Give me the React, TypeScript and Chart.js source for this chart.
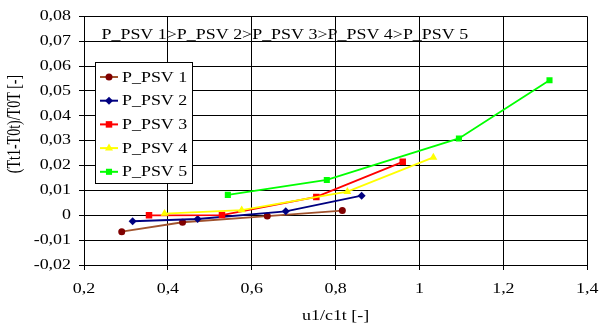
import React, { useEffect, useRef } from 'react';
import { Chart, registerables } from 'chart.js';

Chart.register(...registerables);

// ---------- data ----------
const SERIES_NAMES = ['P_PSV 1', 'P_PSV 2', 'P_PSV 3', 'P_PSV 4', 'P_PSV 5'];

const S1_X = [0.290, 0.435, 0.637, 0.816];
const S1_Y = [-0.0066, -0.0028, -0.0003, 0.0019];

const S2_X = [0.316, 0.471, 0.681, 0.862];
const S2_Y = [-0.0024, -0.0015, 0.0016, 0.0079];

const S3_X = [0.355, 0.529, 0.754, 0.960];
const S3_Y = [0.0000, 0.0001, 0.0074, 0.0215];

const S4_X = [0.392, 0.576, 0.828, 1.033];
const S4_Y = [0.0007, 0.0021, 0.0095, 0.0233];

const S5_X = [0.543, 0.779, 1.094, 1.310];
const S5_Y = [0.0082, 0.0142, 0.0309, 0.0543];

const X_TICKS = [0.2, 0.4, 0.6, 0.8, 1.0, 1.2, 1.4];
const X_TICK_LABELS = ['0,2', '0,4', '0,6', '0,8', '1', '1,2', '1,4'];
const Y_TICKS = [-0.02, -0.01, 0, 0.01, 0.02, 0.03, 0.04, 0.05, 0.06, 0.07, 0.08];
const Y_TICK_LABELS = ['-0,02', '-0,01', '0', '0,01', '0,02', '0,03', '0,04', '0,05', '0,06', '0,07', '0,08'];

const ANNOTATION = 'P_PSV 1>P_PSV 2>P_PSV 3>P_PSV 4>P_PSV 5';
const X_TITLE = 'u1/c1t [-]';
const Y_TITLE = '(Tt1-T0t)/T0T [-]';

// ---------- styles ----------
const FONT_FAMILY = '"Liberation Serif", "Times New Roman", serif';
const SX = 1.28; // horizontal text stretch of the reference
const STYLES = [
  { line: '#A0522D', point: '#800000', shape: 'circle', r: 3.5 },
  { line: '#000080', point: '#000080', shape: 'rectRot', r: 4 },
  { line: '#FF0000', point: '#FF0000', shape: 'rect', r: 4.6 },
  { line: '#FFFF00', point: '#FFFF00', shape: 'triangle', r: 4.6 },
  { line: '#00FF00', point: '#00FF00', shape: 'rect', r: 4.3 },
];

const SERIES_X = [S1_X, S2_X, S3_X, S4_X, S5_X];
const SERIES_Y = [S1_Y, S2_Y, S3_Y, S4_Y, S5_Y];

function drawMarker(ctx: CanvasRenderingContext2D, shape: string, x: number, y: number, r: number, color: string) {
  ctx.save();
  ctx.fillStyle = color;
  ctx.strokeStyle = color;
  ctx.beginPath();
  if (shape === 'circle') {
    ctx.arc(x, y, r, 0, Math.PI * 2);
  } else if (shape === 'rectRot') {
    ctx.moveTo(x, y - r);
    ctx.lineTo(x + r, y);
    ctx.lineTo(x, y + r);
    ctx.lineTo(x - r, y);
    ctx.closePath();
  } else if (shape === 'rect') {
    const s = r * Math.SQRT1_2;
    ctx.rect(x - s, y - s, 2 * s, 2 * s);
  } else if (shape === 'triangle') {
    ctx.moveTo(x, y - r);
    ctx.lineTo(x + r * 0.866, y + r * 0.5);
    ctx.lineTo(x - r * 0.866, y + r * 0.5);
    ctx.closePath();
  }
  ctx.fill();
  ctx.restore();
}

export default function App() {
  const canvasRef = useRef<HTMLCanvasElement | null>(null);

  useEffect(() => {
    document.body.style.margin = '0';
    const canvas = canvasRef.current!;
    const ctx = canvas.getContext('2d')!;
    const origFillText = ctx.fillText.bind(ctx);
    // stretch every text horizontally around its anchor point
    (ctx as any).fillText = (t: string, x: number, y: number, mw?: number) => {
      ctx.save();
      ctx.translate(x, y);
      ctx.scale(SX, 1);
      origFillText(t, 0, 0);
      ctx.restore();
    };

    const overlay = {
      id: 'overlay',
      afterDraw(chart: any) {
        const c: CanvasRenderingContext2D = chart.ctx;
        const area = chart.chartArea;
        c.save();
        c.fillStyle = '#000';
        c.font = `14px ${FONT_FAMILY}`;
        c.textBaseline = 'middle';

        // annotation inside the plot
        c.textAlign = 'left';
        c.fillText(ANNOTATION, area.left + 17.5, area.top + 18.5);

        // x-axis title
        c.textAlign = 'center';
        c.fillText(X_TITLE, (area.left + area.right) / 2, 316);

        // y-axis title (rotated, stretched in screen x)
        c.save();
        c.translate(15, 124);
        c.scale(SX, 1);
        c.rotate(-Math.PI / 2);
        c.textAlign = 'center';
        c.textBaseline = 'middle';
        origFillText(Y_TITLE, 0, 0);
        c.restore();

        // legend
        const lx = area.left + 11, ly = 62, lw = 97, lh = 121;
        c.fillStyle = '#fff';
        c.fillRect(lx, ly, lw, lh);
        c.strokeStyle = '#000';
        c.lineWidth = 1;
        c.strokeRect(lx + 0.5, ly + 0.5, lw, lh);
        SERIES_NAMES.forEach((name, i) => {
          const st = STYLES[i];
          const yy = ly + 15 + i * 23.7;
          c.strokeStyle = st.line;
          c.lineWidth = 2;
          c.beginPath();
          c.moveTo(lx + 5, yy);
          c.lineTo(lx + 23, yy);
          c.stroke();
          drawMarker(c, st.shape, lx + 14, yy, st.r, st.point);
          c.fillStyle = '#000';
          c.textAlign = 'left';
          c.textBaseline = 'middle';
          c.fillText(name, lx + 27, yy + 1);
        });
        c.restore();
      },
    };

    const datasets = SERIES_NAMES.map((name, i) => ({
      label: name,
      data: SERIES_X[i].map((x, j) => ({ x, y: SERIES_Y[i][j] })),
      borderColor: STYLES[i].line,
      backgroundColor: STYLES[i].point,
      pointBackgroundColor: STYLES[i].point,
      pointBorderColor: STYLES[i].point,
      pointBorderWidth: 0,
      pointStyle: STYLES[i].shape,
      pointRadius: STYLES[i].r,
      borderWidth: 1.8,
      showLine: true,
      tension: 0,
      order: SERIES_NAMES.length - i,
    }));

    const chart = new Chart(ctx, {
      type: 'scatter',
      data: { datasets },
      options: {
        animation: false,
        responsive: false,
        devicePixelRatio: 1,
        layout: { padding: { left: 0, top: 16, right: 11, bottom: 0 } },
        plugins: {
          legend: { display: false },
          tooltip: { enabled: false },
          title: { display: false },
        },
        scales: {
          x: {
            type: 'linear',
            min: 0.2,
            max: 1.4,
            afterBuildTicks: (s: any) => { s.ticks = X_TICKS.map((v) => ({ value: v })); },
            afterFit: (s: any) => { s.height = 64; },
            ticks: {
              callback: (_v: any, idx: number) => X_TICK_LABELS[idx],
              font: { family: FONT_FAMILY, size: 14 },
              color: '#000',
              padding: 11,
              maxRotation: 0,
              autoSkip: false,
            },
            grid: { color: '#000', lineWidth: 1, tickLength: 5, drawTicks: true },
            border: { color: '#000', width: 1 },
          },
          y: {
            type: 'linear',
            min: -0.02,
            max: 0.08,
            afterBuildTicks: (s: any) => { s.ticks = Y_TICKS.map((v) => ({ value: v })); },
            afterFit: (s: any) => { s.width = 84; },
            ticks: {
              callback: (_v: any, idx: number) => Y_TICK_LABELS[idx],
              font: { family: FONT_FAMILY, size: 14 },
              color: '#000',
              padding: 8,
              autoSkip: false,
            },
            grid: { color: '#000', lineWidth: 1, tickLength: 5, drawTicks: true },
            border: { color: '#000', width: 1 },
          },
        },
      },
      plugins: [overlay],
    } as any);

    return () => {
      chart.destroy();
      (ctx as any).fillText = origFillText;
    };
  }, []);

  return (
    <div style={{ width: 607, height: 329, background: '#fff' }}>
      <canvas ref={canvasRef} width={607} height={329} style={{ display: 'block', width: 607, height: 329 }} />
    </div>
  );
}
